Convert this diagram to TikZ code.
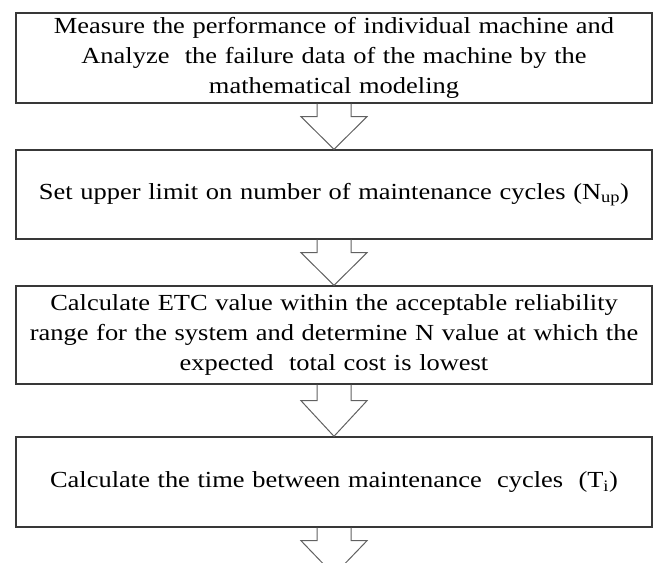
\documentclass[tikz,border=0pt]{standalone}
\usepackage{fontspec}
\setmainfont{Liberation Serif}[FakeStretch=1.15]
\usetikzlibrary{calc}

% Hollow block arrow from the bottom of one step down to the next one.
% #1: source node, #2: tip point, #3: stem length
\newcommand{\flowdown}[3]{%
  \draw[flowarrow]
    ($(#1.south)+(-17,0)$) -- ++(0,-#3) -- ++(-16,0) -- (#2)
    -- ($(#1.south)+(33,-#3)$) -- ++(-16,0) -- ($(#1.south)+(17,0)$);}

\begin{document}
\begin{tikzpicture}[x=1pt,y=1pt,
  stepbox/.style={draw=black!78, line width=1.4pt, minimum width=636pt,
    inner sep=0pt, align=center, text width=630pt,
    font=\fontsize{23}{30}\selectfont},
  flowarrow/.style={draw=black!62, line width=1pt, line join=miter}]
\useasboundingbox (0,0) rectangle (657,-563);
\clip (0,0) rectangle (657,-563);

\node[stepbox, minimum height=90pt] (s1) at (334,-58)
  {Measure the performance of individual machine and\\
   Analyze\ \ the failure data of the machine by the\\
   mathematical modeling};
\node[stepbox, minimum height=89pt] (s2) at (334,-194.5)
  {Set upper limit on number of maintenance cycles (N\textsubscript{up})};
\node[stepbox, minimum height=98pt] (s3) at (334,-335)
  {Calculate ETC value within the acceptable reliability\\
   range for the system and determine N value at which the\\
   expected\ \ total cost is lowest};
\node[stepbox, minimum height=90pt] (s4) at (334,-482)
  {Calculate the time between maintenance\ \ cycles\ \ (T\textsubscript{i})};
\coordinate (next) at (334,-575);

\flowdown{s1}{s2.north}{13}
\flowdown{s2}{s3.north}{13}
\flowdown{s3}{s4.north}{16}
\flowdown{s4}{next}{13}
\end{tikzpicture}
\end{document}
